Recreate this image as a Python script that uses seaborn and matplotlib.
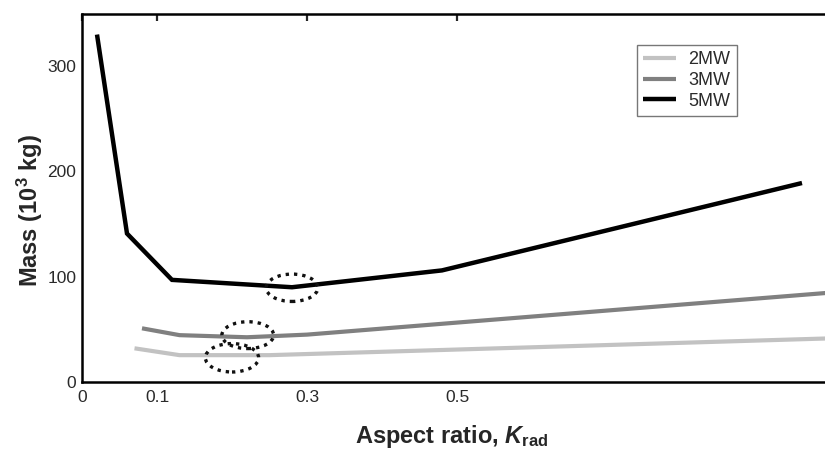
import matplotlib
matplotlib.use("Agg")
import matplotlib.pyplot as plt
from matplotlib.patches import Ellipse
import seaborn as sns
import pandas as pd

sns.set_theme(style="white")
plt.rcParams['font.family'] = ['Liberation Sans', 'DejaVu Sans']
plt.rcParams['mathtext.fontset'] = 'custom'
plt.rcParams['mathtext.rm'] = 'Liberation Sans'
plt.rcParams['mathtext.it'] = 'Liberation Sans:italic:bold'
plt.rcParams['mathtext.bf'] = 'Liberation Sans:bold'

# ---- data ----
series_names = ["2MW", "3MW", "5MW"]
k_2mw = [0.07, 0.13, 0.25, 1.0]
m_2mw = [32, 25.5, 25.5, 41.5]
k_3mw = [0.08, 0.13, 0.22, 0.30, 1.0]
m_3mw = [51, 44.5, 42.5, 45, 85]
k_5mw = [0.02, 0.06, 0.12, 0.28, 0.48, 0.96]
m_5mw = [330, 141, 97, 90, 106, 189]

x_ticks = [0, 0.1, 0.3, 0.5]
x_tick_labels = ["0", "0.1", "0.3", "0.5"]
y_ticks = [0, 100, 200, 300]
y_tick_labels = ["0", "100", "200", "300"]

# highlighted optimum regions (dotted ellipses): centers and sizes in data units
opt_k = [0.28, 0.221, 0.20]
opt_m = [89.5, 44.5, 23]
opt_w = [0.069, 0.069, 0.071]
opt_h = [26, 25.5, 27]

colors = {"2MW": "#c2c2c2", "3MW": "#808080", "5MW": "#000000"}
widths = {"2MW": 3.0, "3MW": 3.0, "5MW": 3.2}

df = pd.concat([
    pd.DataFrame({"K": k_2mw, "Mass": m_2mw, "Series": "2MW"}),
    pd.DataFrame({"K": k_3mw, "Mass": m_3mw, "Series": "3MW"}),
    pd.DataFrame({"K": k_5mw, "Mass": m_5mw, "Series": "5MW"}),
], ignore_index=True)

fig = plt.figure(figsize=(8.25, 4.54), dpi=100)
ax = fig.add_axes([82/825, 1 - 382/454, 750/825, (382 - 13.5)/454])

for name in series_names:
    sub = df[df["Series"] == name]
    sns.lineplot(data=sub, x="K", y="Mass", ax=ax, color=colors[name],
                 linewidth=widths[name], label=name, sort=False,
                 solid_joinstyle="miter", solid_capstyle="butt")

for cx, cy, w, h in zip(opt_k, opt_m, opt_w, opt_h):
    ax.add_patch(Ellipse((cx, cy), w, h, fill=False, edgecolor="#111111",
                         linewidth=2.4, linestyle=(0, (1, 1.5)), zorder=5))

ax.set_xlim(0, 1.0)
ax.set_ylim(0, 350)
ax.set_xticks(x_ticks)
ax.set_xticklabels(x_tick_labels)
ax.set_yticks(y_ticks)
ax.set_yticklabels(y_tick_labels)
ax.tick_params(direction="in", length=5, width=1.6, labelsize=12.5,
               labelcolor="#2a2a2a", top=True, right=True, pad=4)
ax.tick_params(axis="x", pad=6)
for s in ax.spines.values():
    s.set_linewidth(1.8)
    s.set_color("black")

ax.set_xlabel(r"Aspect ratio, $K_{\mathregular{rad}}$", fontsize=17,
              fontweight="bold")
ax.xaxis.set_label_coords((452 - 82) / 750, -0.111)
ax.set_ylabel(r"Mass (10$^{\mathbf{3}}$ kg)", fontsize=17, fontweight="bold")
ax.yaxis.set_label_coords(-0.049, 0.465)

leg = ax.legend(loc="upper left", bbox_to_anchor=(0.74, 0.9145),
                borderaxespad=0, frameon=True, fancybox=False,
                fontsize=13, handlelength=1.8, labelspacing=0.2,
                handletextpad=0.7, borderpad=0.35)
for t in leg.get_texts():
    t.set_color("#2a2a2a")
leg.get_frame().set_edgecolor("#555555")
leg.get_frame().set_linewidth(1.0)

fig.savefig("out.png", dpi=100)
